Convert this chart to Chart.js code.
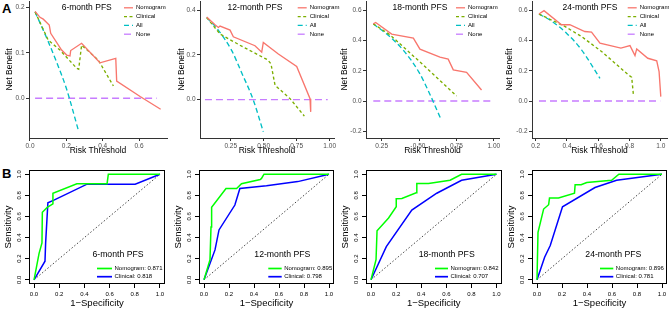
<!DOCTYPE html>
<html>
<head>
<meta charset="utf-8">
<script src="https://cdn.jsdelivr.net/npm/chart.js@4.4.0/dist/chart.umd.min.js"></script>
<style>
  body { margin:0; background:#fff; width:669px; height:309px; position:relative; overflow:hidden;
         font-family:'Liberation Sans', Arial, sans-serif; }
  canvas { position:absolute; }
  .tag { position:absolute; font-weight:bold; font-size:13px; line-height:13px; color:#000; }
</style>
</head>
<body>
<div class="tag" style="left:2px;top:2px">A</div>
<div class="tag" style="left:2px;top:167px">B</div>

<canvas id="dca6"></canvas>
<canvas id="dca12"></canvas>
<canvas id="dca18"></canvas>
<canvas id="dca24"></canvas>
<canvas id="roc6"></canvas>
<canvas id="roc12"></canvas>
<canvas id="roc18"></canvas>
<canvas id="roc24"></canvas>

<script>
/* ----------------------------------------------------------
   Data - decision curves: [threshold, net benefit]
   ---------------------------------------------------------- */
var dca6Nomogram = [[0.028,0.191],[0.055,0.178],[0.073,0.174],[0.106,0.161],[0.114,0.143],[0.174,0.106],[0.202,0.095],[0.22,0.093],[0.224,0.105],[0.284,0.121],[0.385,0.078],[0.472,0.088],[0.477,0.038],[0.606,0.004],[0.719,-0.024]];
var dca6Clinical = [[0.028,0.19],[0.1,0.128],[0.165,0.106],[0.257,0.066],[0.268,0.064],[0.284,0.117],[0.376,0.084],[0.459,0.027]];
var dca6All      = [[0.028,0.19],[0.1,0.125],[0.15,0.076],[0.2,0.022],[0.266,-0.07]];
var dca6None     = [[0.028,0],[0.697,0]];

var dca12Nomogram = [[0.068,0.37],[0.131,0.335],[0.157,0.323],[0.169,0.329],[0.245,0.311],[0.27,0.281],[0.434,0.241],[0.485,0.212],[0.497,0.256],[0.611,0.204],[0.75,0.148],[0.851,0.004],[0.856,-0.055]];
var dca12Clinical = [[0.068,0.367],[0.17,0.293],[0.33,0.24],[0.53,0.178],[0.555,0.16],[0.586,0.064],[0.7,0.004],[0.808,-0.074]];
var dca12All      = [[0.068,0.367],[0.157,0.31],[0.258,0.219],[0.333,0.12],[0.42,0],[0.497,-0.144]];
var dca12None     = [[0.055,0],[0.985,0]];

var dca18Nomogram = [[0.194,0.511],[0.21,0.52],[0.317,0.443],[0.462,0.416],[0.506,0.343],[0.64,0.29],[0.695,0.277],[0.729,0.206],[0.818,0.19],[0.918,0.073]];
var dca18Clinical = [[0.194,0.511],[0.306,0.438],[0.528,0.239],[0.751,0.033]];
var dca18All      = [[0.194,0.51],[0.3,0.43],[0.4,0.33],[0.5,0.19],[0.57,0.05],[0.644,-0.115]];
var dca18None     = [[0.194,0],[0.996,0]];

var dca24Nomogram = [[0.221,0.576],[0.253,0.598],[0.365,0.505],[0.418,0.505],[0.514,0.46],[0.557,0.456],[0.611,0.383],[0.745,0.35],[0.803,0.367],[0.835,0.301],[0.846,0.345],[0.917,0.283],[0.974,0.266],[0.989,0.195],[1.0,0.029]];
var dca24Clinical = [[0.221,0.576],[0.386,0.494],[0.493,0.427],[0.621,0.328],[0.793,0.173],[0.814,0.157],[0.825,0.04]];
var dca24All      = [[0.221,0.576],[0.3,0.53],[0.397,0.449],[0.493,0.339],[0.611,0.15]];
var dca24None     = [[0.221,0],[0.996,0]];

/* ----------------------------------------------------------
   Data - ROC curves: [1-specificity, sensitivity]
   ---------------------------------------------------------- */
var roc6Nomogram  = [[0,0],[0.04,0.25],[0.063,0.35],[0.066,0.64],[0.105,0.686],[0.15,0.72],[0.15,0.82],[0.34,0.91],[0.58,0.91],[0.59,1],[1,1]];
var roc6Clinical  = [[0,0],[0.087,0.176],[0.092,0.348],[0.11,0.73],[0.158,0.755],[0.421,0.906],[0.803,0.906],[1,1]];
var roc12Nomogram = [[0,0],[0.048,0.19],[0.056,0.5],[0.061,0.686],[0.176,0.865],[0.261,0.865],[0.3,0.91],[0.45,0.95],[0.46,0.96],[0.48,1],[1,1]];
var roc12Clinical = [[0,0],[0.088,0.283],[0.12,0.472],[0.247,0.708],[0.287,0.865],[0.5,0.89],[0.75,0.93],[1,1]];
var roc18Nomogram = [[0,0],[0.04,0.19],[0.048,0.465],[0.14,0.585],[0.201,0.692],[0.201,0.767],[0.246,0.77],[0.36,0.824],[0.365,0.912],[0.458,0.912],[0.63,0.943],[0.722,1],[1,1]];
var roc18Clinical = [[0,0],[0.122,0.314],[0.325,0.66],[0.524,0.82],[0.722,0.943],[1,1]];
var roc24Nomogram = [[0,0],[0.008,0.45],[0.053,0.67],[0.093,0.711],[0.1,0.774],[0.172,0.774],[0.3,0.821],[0.305,0.9],[0.353,0.9],[0.398,0.921],[0.597,0.943],[0.655,1],[1,1]];
var roc24Clinical = [[0,0],[0.061,0.214],[0.106,0.324],[0.204,0.692],[0.464,0.874],[0.637,0.943],[1,1]];
var rocDiagonal   = [[0,0],[1,1]];

var panelTitles  = ['6-month PFS', '12-month PFS', '18-month PFS', '24-month PFS'];
var dcaLabels    = ['Nomogram', 'Clinical', 'All', 'None'];
var nomogramAuc  = [0.871, 0.895, 0.842, 0.896];
var clinicalAuc  = [0.818, 0.798, 0.707, 0.781];

var dca6XTicks  = [0, 0.2, 0.4, 0.6];        var dca6YTicks  = [0, 0.1, 0.2];
var dca12XTicks = [0.25, 0.5, 0.75, 1];      var dca12YTicks = [0, 0.2, 0.4];
var dca18XTicks = [0.25, 0.5, 0.75, 1];      var dca18YTicks = [-0.2, 0, 0.2, 0.4, 0.6];
var dca24XTicks = [0.2, 0.4, 0.6, 0.8, 1];   var dca24YTicks = [-0.2, 0, 0.2, 0.4, 0.6];
var rocTicks    = [0, 0.2, 0.4, 0.6, 0.8, 1];

/* ----------------------------------------------------------
   Layout (page pixels)
   ---------------------------------------------------------- */
var FONT = "'Liberation Sans', Arial, sans-serif";
var dcaColors = ['#F8766D', '#7CAE00', '#00BFC4', '#C77CFF'];
var dcaDashes = [[], [3, 2.5], [5, 3], [7, 4]];

var dcaLayout = [
  { id:'dca6',  canvas:[0,0,190,160],   plot:[29,1,167,138],  x:[-0.0055,0.754], y:[-0.0873,0.2139], xDigits:1, yDigits:1, yTitleX:10,    titleX:86.7, keyX:124 },
  { id:'dca12', canvas:[168,0,182,160], plot:[200,1,334,138], x:[0.0174,1.0326], y:[-0.172,0.4413],  xDigits:2, yDigits:1, yTitleX:181.7, titleX:255,  keyX:297.7 },
  { id:'dca18', canvas:[334,0,175,160], plot:[366,1,499,138], x:[0.1452,1.0348], y:[-0.245,0.6623],  xDigits:2, yDigits:1, yTitleX:345,   titleX:420,  keyX:456 },
  { id:'dca24', canvas:[500,0,169,160], plot:[532,1,667,138], x:[0.1763,1.0397], y:[-0.245,0.6623],  xDigits:1, yDigits:1, yTitleX:510,   titleX:590,  keyX:627.7 }
];
var rocLayout = [
  { id:'roc6',  canvas:[0,160,171,149],   plot:[29,170,165,284],    titleX:118,   keyX:[97,112] },
  { id:'roc12', canvas:[171,160,168,149], plot:[199,170,334,284],   titleX:282.3, keyX:[268.3,281.7] },
  { id:'roc18', canvas:[339,160,168,149], plot:[366,170,501.5,284], titleX:446.7, keyX:[435,448] },
  { id:'roc24', canvas:[505,160,164,149], plot:[532,170,667,284],   titleX:613.3, keyX:[600,613.3] }
];

/* ----------------------------------------------------------
   Plugin: in-plot title, legend, box frame
   ---------------------------------------------------------- */
var decor = {
  id: 'decor',
  afterDatasetsDraw: function(chart, args, o) {
    var ctx = chart.ctx, a = chart.chartArea, ox = o.origin[0], oy = o.origin[1];
    ctx.save();
    if (o.frame) {
      ctx.strokeStyle = '#000'; ctx.lineWidth = 1; ctx.setLineDash([]);
      ctx.strokeRect(Math.round(a.left) + 0.5, Math.round(a.top) + 0.5,
                     Math.round(a.right - a.left) - 1, Math.round(a.bottom - a.top) - 1);
    }
    ctx.fillStyle = '#000';
    ctx.textBaseline = 'middle';
    ctx.textAlign = 'center';
    ctx.font = o.titleSize + 'px ' + FONT;
    ctx.fillText(o.title, o.titleAt[0] - ox, o.titleAt[1] - oy);

    ctx.textAlign = 'left';
    ctx.font = o.legendSize + 'px ' + FONT;
    var row = 0;
    chart.data.datasets.forEach(function(ds) {
      if (ds.noLegend) return;
      var y = o.legendY + row * o.legendStep - oy;
      row++;
      ctx.strokeStyle = ds.borderColor;
      ctx.lineWidth = o.keyWidth;
      ctx.setLineDash(ds.borderDash || []);
      ctx.beginPath();
      ctx.moveTo(o.keyX[0] - ox, y);
      ctx.lineTo(o.keyX[1] - ox, y);
      ctx.stroke();
      ctx.setLineDash([]);
      ctx.fillText(ds.label, o.keyX[1] + o.textGap - ox, y);
    });
    ctx.restore();
  }
};

function toXY(pts) { return pts.map(function(p) { return { x:p[0], y:p[1] }; }); }

function placeCanvas(id, c) {
  var el = document.getElementById(id);
  el.width = c[2]; el.height = c[3];
  el.style.left = c[0] + 'px'; el.style.top = c[1] + 'px';
  el.style.width = c[2] + 'px'; el.style.height = c[3] + 'px';
  return el;
}

function fixedScale(o) {
  return {
    type: 'linear', position: o.position, min: o.range[0], max: o.range[1],
    afterBuildTicks: function(s) { s.ticks = o.ticks.map(function(v) { return { value:v }; }); },
    afterFit: function(s) {
      if (o.position === 'bottom') s.height = o.size; else s.width = o.size;
      s.paddingTop = 0; s.paddingBottom = 0; s.paddingLeft = 0; s.paddingRight = 0;
    },
    grid: { drawOnChartArea:false, drawTicks:true, tickLength:o.tickLength, color:o.lineColor },
    border: { display:o.border, color:o.lineColor, width:1 },
    ticks: {
      font: { size:o.tickSize }, color:o.tickColor, padding:o.tickPad,
      minRotation:o.rotate || 0, maxRotation:o.rotate || 0, crossAlign:o.crossAlign || 'near',
      callback: function(v) { return v.toFixed(o.digits); }
    },
    title: { display:true, text:o.title, color:'#000', font:{ size:o.titleSize }, padding:o.titlePad }
  };
}

/* ----------------------------------------------------------
   Decision curve panels
   ---------------------------------------------------------- */
var dcaData = [
  [dca6Nomogram, dca6Clinical, dca6All, dca6None],
  [dca12Nomogram, dca12Clinical, dca12All, dca12None],
  [dca18Nomogram, dca18Clinical, dca18All, dca18None],
  [dca24Nomogram, dca24Clinical, dca24All, dca24None]
];
var dcaXTicks = [dca6XTicks, dca12XTicks, dca18XTicks, dca24XTicks];
var dcaYTicks = [dca6YTicks, dca12YTicks, dca18YTicks, dca24YTicks];

dcaLayout.forEach(function(L, i) {
  var c = L.canvas, p = L.plot;
  var el = placeCanvas(L.id, c);
  var titleSize = 8.5, lh = titleSize * 1.2;
  new Chart(el, {
    type: 'line',
    data: {
      datasets: dcaData[i].map(function(pts, k) {
        return { label:dcaLabels[k], data:toXY(pts), borderColor:dcaColors[k], borderWidth:1.35,
                 borderDash:dcaDashes[k], pointRadius:0, tension:0, fill:false,
                 cubicInterpolationMode: k === 2 ? 'monotone' : 'default' };
      })
    },
    options: {
      responsive:false, animation:false,
      layout: { padding: { left:0, top:p[1] - c[1], right:c[0] + c[2] - p[2], bottom:0 } },
      plugins: {
        legend: { display:false }, tooltip: { enabled:false },
        decor: { origin:[c[0], c[1]], title:panelTitles[i], titleSize:8.5, titleAt:[L.titleX, 7.8],
                 legendSize:6, legendY:7.8, legendStep:8.8, keyX:[L.keyX, L.keyX + 9], textGap:3, keyWidth:1.3 }
      },
      scales: {
        x: fixedScale({ position:'bottom', range:L.x, ticks:dcaXTicks[i], digits:L.xDigits, size:c[1] + c[3] - p[3],
                        tickLength:3, lineColor:'#333', border:true, tickSize:6.5, tickColor:'#4D4D4D', tickPad:1,
                        title:'Risk Threshold', titleSize:titleSize, titlePad:{ top:0, bottom:3.9 } }),
        y: fixedScale({ position:'left', range:L.y, ticks:dcaYTicks[i], digits:L.yDigits, size:p[0] - c[0],
                        tickLength:3, lineColor:'#333', border:true, tickSize:6.5, tickColor:'#4D4D4D', tickPad:1.5,
                        title:'Net Benefit', titleSize:titleSize, titlePad:{ top:L.yTitleX - c[0] - lh / 2, bottom:0 } })
      }
    },
    plugins: [decor]
  });
});

/* ----------------------------------------------------------
   ROC panels
   ---------------------------------------------------------- */
var rocData = [
  [roc6Nomogram, roc6Clinical],
  [roc12Nomogram, roc12Clinical],
  [roc18Nomogram, roc18Clinical],
  [roc24Nomogram, roc24Clinical]
];

rocLayout.forEach(function(L, i) {
  var c = L.canvas, p = L.plot;
  var el = placeCanvas(L.id, c);
  var titleSize = 9.5, lh = titleSize * 1.2;
  new Chart(el, {
    type: 'line',
    data: {
      datasets: [
        { label:'Nomogram: ' + nomogramAuc[i].toFixed(3), data:toXY(rocData[i][0]), borderColor:'#00FF00', borderWidth:1.5, pointRadius:0, tension:0 },
        { label:'Clinical: ' + clinicalAuc[i].toFixed(3), data:toXY(rocData[i][1]), borderColor:'#0000FF', borderWidth:1.5, pointRadius:0, tension:0 },
        { label:'ref', data:toXY(rocDiagonal), borderColor:'#444', borderWidth:1, borderDash:[1.5, 2], pointRadius:0, noLegend:true }
      ]
    },
    options: {
      responsive:false, animation:false,
      layout: { padding: { left:0, top:p[1] - c[1], right:c[0] + c[2] - p[2], bottom:0 } },
      plugins: {
        legend: { display:false }, tooltip: { enabled:false },
        decor: { origin:[c[0], c[1]], frame:true, title:panelTitles[i], titleSize:8.7, titleAt:[L.titleX, 254.5],
                 legendSize:6, legendY:268.5, legendStep:8.2, keyX:L.keyX, textGap:2.5, keyWidth:1.7 }
      },
      scales: {
        x: fixedScale({ position:'bottom', range:[-0.04, 1.04], ticks:rocTicks, digits:1, size:c[1] + c[3] - p[3],
                        tickLength:4, lineColor:'#000', border:false, tickSize:6, tickColor:'#000', tickPad:3,
                        title:'1\u2212Specificity', titleSize:titleSize, titlePad:{ top:0, bottom:0 } }),
        y: fixedScale({ position:'left', range:[-0.04, 1.04], ticks:rocTicks, digits:1, size:p[0] - c[0],
                        tickLength:4, lineColor:'#000', border:false, tickSize:6, tickColor:'#000', tickPad:1.3,
                        rotate:90, crossAlign:'center',
                        title:'Sensitivity', titleSize:titleSize, titlePad:{ top:(p[0] - 20.5) - c[0] - lh / 2, bottom:0 } })
      }
    },
    plugins: [decor]
  });
});
</script>
</body>
</html>
